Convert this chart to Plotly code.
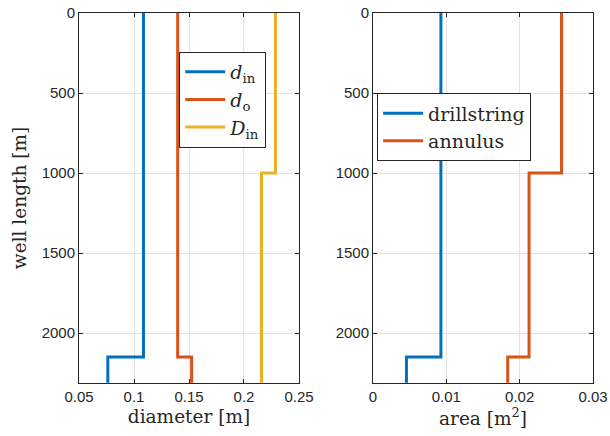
import plotly.graph_objects as go
from plotly.subplots import make_subplots

# Well sections: depth breakpoints along the well [m]
depth_breaks = [0, 1000, 2150, 2310]

# Diameters per section [m]
d_in = [0.1086, 0.1086, 0.0762]
d_o = [0.1397, 0.1397, 0.1524]
D_in = [0.2286, 0.2159, 0.2159]

# Flow areas per section [m^2]
area_drillstring = [0.00926, 0.00926, 0.00456]
area_annulus = [0.02571, 0.02128, 0.01837]

BLUE = "#0072BD"
ORANGE = "#D95319"
YELLOW = "#EDB120"
AX = "#262626"
GRID = "#e3e3e3"
SERIF = "DejaVu Serif"
SANS = "Liberation Sans"


def steps(values):
    # one value per section; repeat the last to close the bottom section
    return list(values) + [values[-1]]


fig = make_subplots(rows=1, cols=2, horizontal_spacing=0.144)

lw = 3
fig.add_trace(go.Scatter(x=steps(d_in), y=depth_breaks, mode="lines", line_shape="vh",
                         line=dict(color=BLUE, width=lw), name="<i>d</i><sub>in</sub>",
                         legend="legend"), 1, 1)
fig.add_trace(go.Scatter(x=steps(d_o), y=depth_breaks, mode="lines", line_shape="vh",
                         line=dict(color=ORANGE, width=lw), name="<i>d</i><sub>o</sub>",
                         legend="legend"), 1, 1)
fig.add_trace(go.Scatter(x=steps(D_in), y=depth_breaks, mode="lines", line_shape="vh",
                         line=dict(color=YELLOW, width=lw), name="<i>D</i><sub>in</sub>",
                         legend="legend"), 1, 1)

fig.add_trace(go.Scatter(x=steps(area_drillstring), y=depth_breaks, mode="lines", line_shape="vh",
                         line=dict(color=BLUE, width=lw), name="drillstring",
                         legend="legend2"), 1, 2)
fig.add_trace(go.Scatter(x=steps(area_annulus), y=depth_breaks, mode="lines", line_shape="vh",
                         line=dict(color=ORANGE, width=lw), name="annulus",
                         legend="legend2"), 1, 2)

axis_common = dict(
    showline=True, linecolor=AX, linewidth=1, mirror="ticks",
    ticks="inside", ticklen=4, tickcolor=AX, tickwidth=1,
    showgrid=True, gridcolor=GRID, gridwidth=1, zeroline=False,
    automargin=False,
    tickfont=dict(family=SANS, size=15, color=AX),
    title_font=dict(family=SERIF, size=18.5, color=AX),
)

fig.update_xaxes(**axis_common)
fig.update_yaxes(**axis_common)

fig.update_xaxes(range=[0.05, 0.25], tickvals=[0.05, 0.1, 0.15, 0.2, 0.25],
                 ticktext=["0.05", "0.1", "0.15", "0.2", "0.25"],
                 title_text="diameter [m]", title_standoff=6,
                 domain=[0, 0.428], row=1, col=1)
fig.update_xaxes(range=[0, 0.03], tickvals=[0, 0.01, 0.02, 0.03],
                 ticktext=["0", "0.01", "0.02", "0.03"],
                 title_text="area [m<sup>2</sup>]", title_standoff=6,
                 domain=[0.572, 1], row=1, col=2)
fig.update_yaxes(range=[2312, 0], tickvals=[0, 500, 1000, 1500, 2000],
                 title_text="well length [m]", title_standoff=10, row=1, col=1)
fig.update_yaxes(range=[2312, 0], tickvals=[0, 500, 1000, 1500, 2000], row=1, col=2)

legend_common = dict(
    bgcolor="white", bordercolor=AX, borderwidth=1,
    font=dict(family=SERIF, size=19, color=AX),
    xanchor="left", yanchor="top", itemwidth=40, tracegroupgap=0,
)

fig.update_layout(
    width=610, height=436,
    margin=dict(l=79, r=17, t=13, b=53),
    paper_bgcolor="white", plot_bgcolor="white",
    showlegend=True,
    legend=dict(x=0.195, y=0.895, **legend_common),
    legend2=dict(x=0.580, y=0.783, **legend_common),
)

fig.write_html("out.html")
